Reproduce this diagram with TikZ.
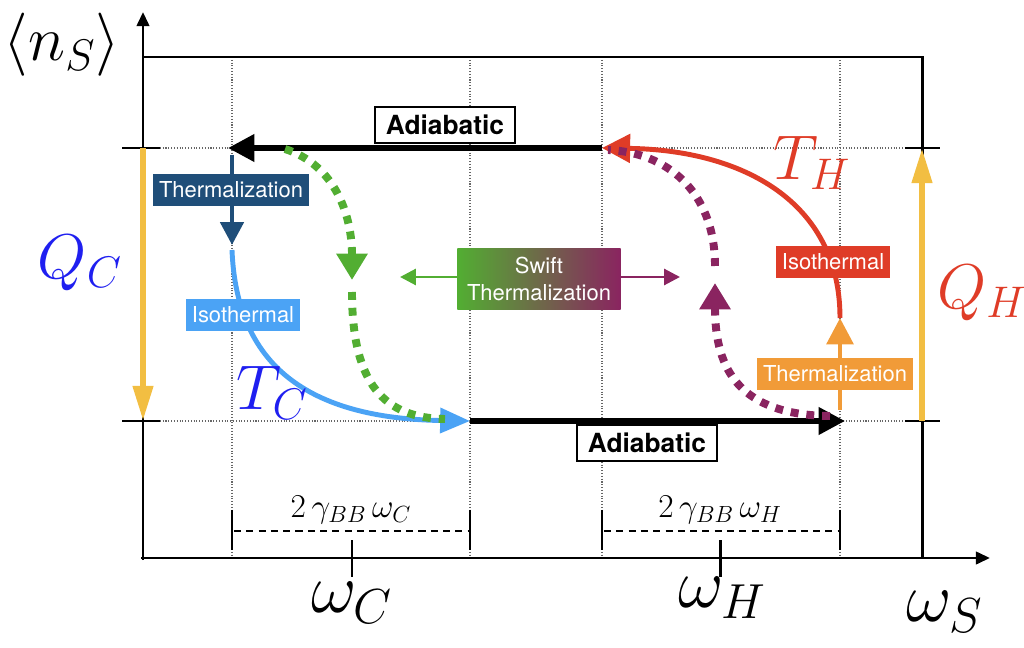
\RequirePackage{fix-cm}
\documentclass[tikz,border=0pt]{standalone}
\usepackage{fontspec}
\newfontfamily\boxfont{TeX Gyre Heros}
\usetikzlibrary{arrows.meta}
\definecolor{cyellow}{HTML}{F2BE42}
\definecolor{cblue}{HTML}{1F1FF0}
\definecolor{cnavy}{HTML}{1F4E79}
\definecolor{clight}{HTML}{4BA3F5}
\definecolor{cgreen}{HTML}{52AE32}
\definecolor{cpurple}{HTML}{8A2460}
\definecolor{cred}{HTML}{DF3C27}
\definecolor{corange}{HTML}{F19B38}

\begin{document}
\begin{tikzpicture}[x=0.02cm, y=-0.02cm]
                \tikzset{axisline/.style={line width=1.7pt, black}}
                \tikzset{gridline/.style={densely dotted, line width=0.6pt, black!60}}
                \tikzset{adiab/.style={line width=3.4pt, -{Triangle[length=15pt,width=15pt]}}}
                \tikzset{yarrow/.style={line width=3.6pt, cyellow, -{Triangle[length=20pt,width=11pt]}}}
                \tikzset{curve/.style={line width=2.8pt}}
                \tikzset{dots/.style={line width=4.5pt, dash pattern=on 4.5pt off 4.5pt}}
                \tikzset{tag/.style={font=\boxfont\fontsize{12.5}{15}\selectfont, text=white, inner xsep=3.5pt, inner ysep=4.5pt}}
                \tikzset{adtag/.style={draw=black, line width=1pt, fill=white, font=\boxfont\bfseries\fontsize{15}{17}\selectfont, inner xsep=6pt, inner ysep=4.5pt}}
                \tikzset{big/.style={font=\fontsize{36}{36}\selectfont}}
                \tikzset{omega/.style={font=\fontsize{40}{40}\selectfont}}
                \useasboundingbox (0,0) rectangle (1024,648);

                % Axes, frame and grid:
                \foreach \x in {232,470,602,840}
                    \draw[gridline] (\x,57) -- (\x,558);
                \draw[gridline] (143,148) -- (922,148);
                \draw[gridline] (143,421) -- (922,421);
                \draw[axisline] (143,57) -- (922,57) -- (922,558);
                \draw[axisline, -{Triangle[length=8pt,width=7pt]}] (143,560) -- (143,12);
                \draw[axisline, -{Triangle[length=8pt,width=7pt]}] (141,558) -- (990,558);
                \foreach \y in {148,421} {
                    \draw[axisline] (122,\y) -- (160,\y);
                    \draw[axisline] (905,\y) -- (940,\y);
                }

                \coordinate (cA) at (228,148);
                \coordinate (cD) at (470,421);
                \coordinate (hA) at (602,148);
                \coordinate (hD) at (845,421);
                \coordinate (qcT) at (143,148);
                \coordinate (qcB) at (143,421);
                \coordinate (qhT) at (922,148);
                \coordinate (qhB) at (922,421);

                % Heat arrows:
                \draw[yarrow] (qcT) -- (qcB);
                \draw[yarrow] (qhB) -- (qhT);
                \node[big, text=cblue] (qc) at (80,263) {$Q_C$};
                \node[big, text=cred]  (qh) at (982,293) {$Q_H$};
                \node[big]             (ns) at (62,45)  {$\langle n_S\rangle$};

                % Adiabatic strokes:
                \draw[adiab] (hA) -- (cA);
                \draw[adiab] (cD) -- (hD);
                \node[adtag] (adtop) at (445,125) {Adiabatic};
                \node[adtag] (adbot) at (647,443) {Adiabatic};

                % Cold side:
                \coordinate (nvS) at (232,155);
                \coordinate (nvE) at (232,245);
                \coordinate (isS) at (232,250);
                \draw[curve, cnavy, -{Triangle[length=13pt,width=13pt]}] (nvS) -- (nvE);
                \node[tag, fill=cnavy] (thc) at (231,190) {Thermalization};
                \draw[curve, clight, -{Triangle[length=17pt,width=14pt]}] (isS) .. controls (236,350) and (290,418) .. (cD);
                \node[tag, fill=clight] (isc) at (243,315) {Isothermal};
                \node[big, text=cblue] (tc) at (272,393) {$T_C$};

                \coordinate (gS) at (285,149);
                \coordinate (gM) at (352,280);
                \coordinate (gN) at (352,292);
                \coordinate (gE) at (445,419);
                \draw[dots, cgreen, -{Triangle[length=15pt,width=17pt]}] (gS) .. controls (335,165) and (352,215) .. (gM);
                \draw[dots, cgreen] (gN) .. controls (352,385) and (385,418) .. (gE);

                % Hot side:
                \coordinate (orS) at (840,410);
                \coordinate (orE) at (840,318);
                \draw[curve, corange, -{Triangle[length=15pt,width=15pt]}] (orS) -- (orE);
                \node[tag, fill=corange] (thh) at (835,374) {Thermalization};
                \draw[curve, cred, -{Triangle[length=16pt,width=16pt]}] (orE) .. controls (840,200) and (740,150) .. (hA);
                \node[tag, fill=cred] (ish) at (833,262) {Isothermal};
                \node[big, text=cred] (th) at (812,163) {$T_H$};

                \coordinate (pS) at (830,416);
                \coordinate (pM) at (715,283);
                \coordinate (pN) at (715,266);
                \coordinate (pE) at (608,150);
                \draw[dots, cpurple, -{Triangle[length=15pt,width=17pt]}] (pS) .. controls (740,415) and (715,370) .. (pM);
                \draw[dots, cpurple] (pN) .. controls (715,190) and (665,152) .. (pE);

                % Swift thermalization:
                \node[tag, left color=cgreen, right color=cpurple, align=center, minimum width=93pt, minimum height=35pt] (swift) at (539,279) {Swift\\Thermalization};
                \coordinate (swL) at (400,277);
                \coordinate (swR) at (680,277);
                \draw[line width=1.7pt, cgreen, -{Triangle[length=9pt,width=9pt]}] (swift.west |- swL) -- (swL);
                \draw[line width=1.7pt, cpurple, -{Triangle[length=9pt,width=9pt]}] (swift.east |- swR) -- (swR);

                % Widths and frequencies:
                \foreach \x in {232,470,602,840}
                    \draw[line width=1.6pt] (\x,510) -- (\x,550);
                \draw[line width=1.2pt, dash pattern=on 4pt off 3pt] (234,531) -- (468,531);
                \draw[line width=1.2pt, dash pattern=on 4pt off 3pt] (604,531) -- (838,531);
                \node[font=\fontsize{19}{19}\selectfont] (gc) at (351,510) {$2\,\gamma_{BB}\,\omega_C$};
                \node[font=\fontsize{19}{19}\selectfont] (gh) at (720,510) {$2\,\gamma_{BB}\,\omega_H$};
                \draw[axisline] (352,540) -- (352,577);
                \draw[axisline] (720,540) -- (720,577);
                \node[omega] (wc) at (352,603) {$\omega_C$};
                \node[omega] (wh) at (722,598) {$\omega_H$};
                \node[omega] (ws) at (945,612) {$\omega_S$};
\end{tikzpicture}
\end{document}
